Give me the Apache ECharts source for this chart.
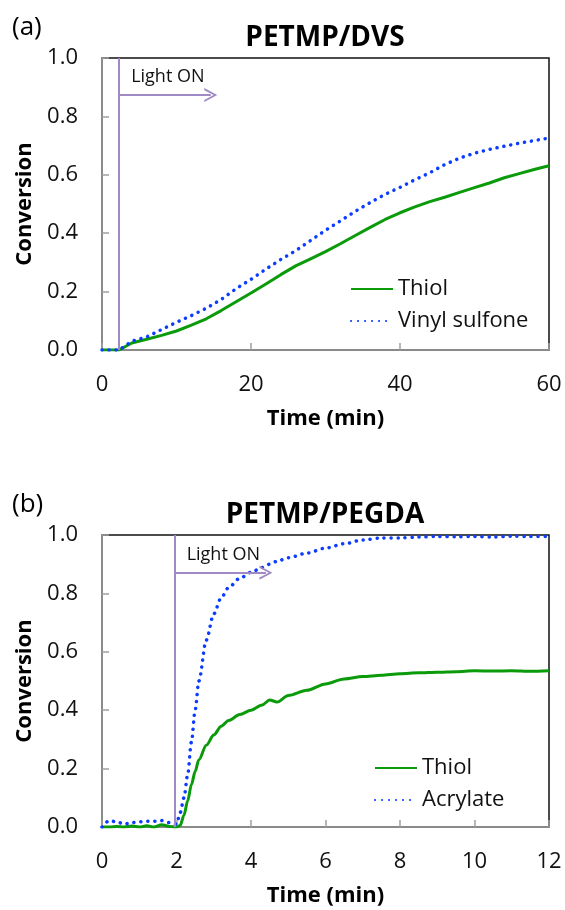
<!DOCTYPE html>
<html>
<head>
<meta charset="utf-8">
<script src="https://cdn.jsdelivr.net/npm/echarts@6/dist/echarts.min.js"></script>
<style>
  html, body { margin: 0; padding: 0; background: #fff; }
  #chart { width: 565px; height: 910px; }
</style>
</head>
<body>
<div id="chart"></div>
<script>
// (a) PETMP/DVS
const timeA = [0, 1, 2.3, 4, 6, 8, 10, 12, 14, 16, 18, 20, 22, 24, 26, 28, 30, 32, 34, 36, 38, 40, 42, 44, 46, 48, 50, 52, 54, 56, 58, 60]
const thiolA = [0, 0, 0, 0.024, 0.037, 0.05, 0.065, 0.085, 0.107, 0.135, 0.165, 0.195, 0.226, 0.258, 0.288, 0.312, 0.337, 0.364, 0.392, 0.42, 0.447, 0.47, 0.49, 0.508, 0.523, 0.54, 0.556, 0.572, 0.59, 0.604, 0.618, 0.631]
const vinylA = [0, 0, 0, 0.03, 0.045, 0.07, 0.095, 0.118, 0.143, 0.173, 0.21, 0.242, 0.277, 0.31, 0.34, 0.375, 0.41, 0.442, 0.475, 0.505, 0.533, 0.557, 0.583, 0.607, 0.635, 0.657, 0.674, 0.687, 0.698, 0.708, 0.717, 0.726]

// (b) PETMP/PEGDA
const timeB = [0, 0.2, 0.4, 0.6, 0.8, 1.0, 1.2, 1.4, 1.6, 1.8, 2.0, 2.1, 2.2, 2.3, 2.4, 2.5, 2.6, 2.8, 3.0, 3.2, 3.4, 3.7, 4.0, 4.3, 4.5, 4.7, 5.0, 5.5, 6.0, 6.5, 7.0, 7.5, 8, 8.5, 9, 9.5, 10, 10.5, 11, 11.5, 12]
const thiolB = [0, 0, 0.002, 0, 0.003, 0, 0.004, 0, 0.008, 0.002, 0, 0.005, 0.04, 0.09, 0.145, 0.19, 0.23, 0.28, 0.315, 0.345, 0.365, 0.385, 0.4, 0.418, 0.435, 0.428, 0.45, 0.468, 0.49, 0.507, 0.515, 0.52, 0.525, 0.528, 0.53, 0.532, 0.535, 0.534, 0.535, 0.533, 0.535]
const acrylateB = [0, 0.022, 0.017, 0.01, 0.015, 0.018, 0.02, 0.02, 0.022, 0.015, 0.01, 0.05, 0.1, 0.18, 0.29, 0.4, 0.5, 0.64, 0.73, 0.785, 0.82, 0.852, 0.872, 0.889, 0.9, 0.91, 0.922, 0.938, 0.955, 0.97, 0.983, 0.99, 0.99, 0.993, 0.995, 0.994, 0.995, 0.993, 0.996, 0.995, 0.995]

// light on annotations: [start time, arrow level, arrow end]
const lightA = [2.3, 0.873, 14.6]
const lightB = [1.95, 0.871, 4.4]

const FONT = '"Open Sans", "Noto Sans", sans-serif'
const GREEN = '#0a9a0a'
const BLUE = '#0b3cff'
const PURPLE = '#a08ac6'
const chevron = 'path://M0,12 L6,0 L12,12 L10.2,12 L6,3.4 L1.8,12 Z'

const pairs = (xs, ys) => xs.map((x, i) => [x, ys[i]])

const lightMark = (l) => ({
  silent: true,
  symbol: ['none', 'none'],
  lineStyle: { color: PURPLE, width: 2, type: 'solid' },
  data: [
    [{ coord: [l[0], 0] }, { coord: [l[0], 1] }],
    [
      {
        coord: [l[0], l[1]],
        label: {
          show: true,
          position: 'insideStartTop',
          formatter: 'Light ON',
          color: '#111',
          fontFamily: FONT,
          fontSize: 18,
          distance: [12, 9]
        }
      },
      { coord: [l[2], l[1]], symbol: chevron, symbolSize: [14, 13] }
    ]
  ],
  label: { show: false }
})

const xAxisBase = (gridIndex, max, interval) => ({
  type: 'value',
  gridIndex,
  min: 0,
  max,
  interval,
  name: 'Time (min)',
  nameLocation: 'middle',
  nameGap: 58,
  nameTextStyle: { fontFamily: FONT, fontWeight: 'bold', fontSize: 22, color: '#000' },
  axisLine: { lineStyle: { color: '#a0a0a0', width: 1.5 } },
  axisTick: { inside: true, length: 7, lineStyle: { color: '#a0a0a0', width: 1.5 } },
  axisLabel: { margin: 24, fontFamily: FONT, fontSize: 22, color: '#111' },
  splitLine: { show: false }
})

const yAxisBase = (gridIndex) => ({
  type: 'value',
  gridIndex,
  min: 0,
  max: 1,
  interval: 0.2,
  name: 'Conversion',
  nameLocation: 'middle',
  nameGap: 64,
  nameTextStyle: { fontFamily: FONT, fontWeight: 'bold', fontSize: 22, color: '#000' },
  axisLine: { show: true, lineStyle: { color: '#a0a0a0', width: 1.5 } },
  axisTick: { show: true, inside: true, length: 7, lineStyle: { color: '#a0a0a0', width: 1.5 } },
  axisLabel: { margin: 24, fontFamily: FONT, fontSize: 22, color: '#111', formatter: v => v.toFixed(1) },
  splitLine: { show: false }
})

const solid = { color: GREEN, width: 3 }
const dotted = { color: BLUE, width: 3.5, type: [0.1, 6.9], cap: 'round' }

const legendBase = (left, top, names) => ({
  orient: 'vertical',
  left,
  top,
  data: names,
  itemWidth: 42,
  itemHeight: 14,
  itemGap: 10,
  selectedMode: false,
  itemStyle: { opacity: 0 },
  textStyle: { fontFamily: FONT, fontSize: 22, color: '#111', lineHeight: 20 }
})

const titleText = (text, x, y, size, bold) => ({
  type: 'text',
  x,
  y,
  style: {
    text,
    fill: '#000',
    font: (bold ? 'bold ' : '') + size + 'px ' + FONT,
    textAlign: bold ? 'center' : 'left',
    textVerticalAlign: 'middle'
  }
})

const chart = echarts.init(document.getElementById('chart'))

const option = {
  animation: false,
  backgroundColor: '#fff',
  grid: [
    { left: 102, top: 58, width: 447, height: 292, show: true, borderColor: '#111', borderWidth: 1.5, backgroundColor: 'transparent' },
    { left: 102, top: 535, width: 447, height: 292, show: true, borderColor: '#111', borderWidth: 1.5, backgroundColor: 'transparent' }
  ],
  xAxis: [xAxisBase(0, 60, 20), xAxisBase(1, 12, 2)],
  yAxis: [yAxisBase(0), yAxisBase(1)],
  legend: [
    legendBase(345, 273, ['Thiol', 'Vinyl sulfone']),
    legendBase(369, 752, ['Thiol', 'Acrylate'])
  ],
  graphic: [
    titleText('PETMP/DVS', 325, 38, 28, true),
    titleText('(a)', 12, 28, 26, false),
    titleText('PETMP/PEGDA', 325, 515, 28, true),
    titleText('(b)', 12, 505, 26, false)
  ],
  series: [
    {
      name: 'Thiol', type: 'line', xAxisIndex: 0, yAxisIndex: 0, symbol: 'none',
      data: pairs(timeA, thiolA), lineStyle: solid, itemStyle: { color: GREEN },
      markLine: lightMark(lightA)
    },
    {
      name: 'Vinyl sulfone', type: 'line', xAxisIndex: 0, yAxisIndex: 0, symbol: 'none',
      data: pairs(timeA, vinylA), lineStyle: dotted, itemStyle: { color: BLUE }
    },
    {
      name: 'Thiol', type: 'line', xAxisIndex: 1, yAxisIndex: 1, symbol: 'none',
      data: pairs(timeB, thiolB), smooth: 0.3, smoothMonotone: 'x',
      lineStyle: solid, itemStyle: { color: GREEN },
      markLine: lightMark(lightB)
    },
    {
      name: 'Acrylate', type: 'line', xAxisIndex: 1, yAxisIndex: 1, symbol: 'none',
      data: pairs(timeB, acrylateB), smooth: 0.3, smoothMonotone: 'x',
      lineStyle: dotted, itemStyle: { color: BLUE }
    }
  ]
}

chart.setOption(option)
</script>
</body>
</html>
